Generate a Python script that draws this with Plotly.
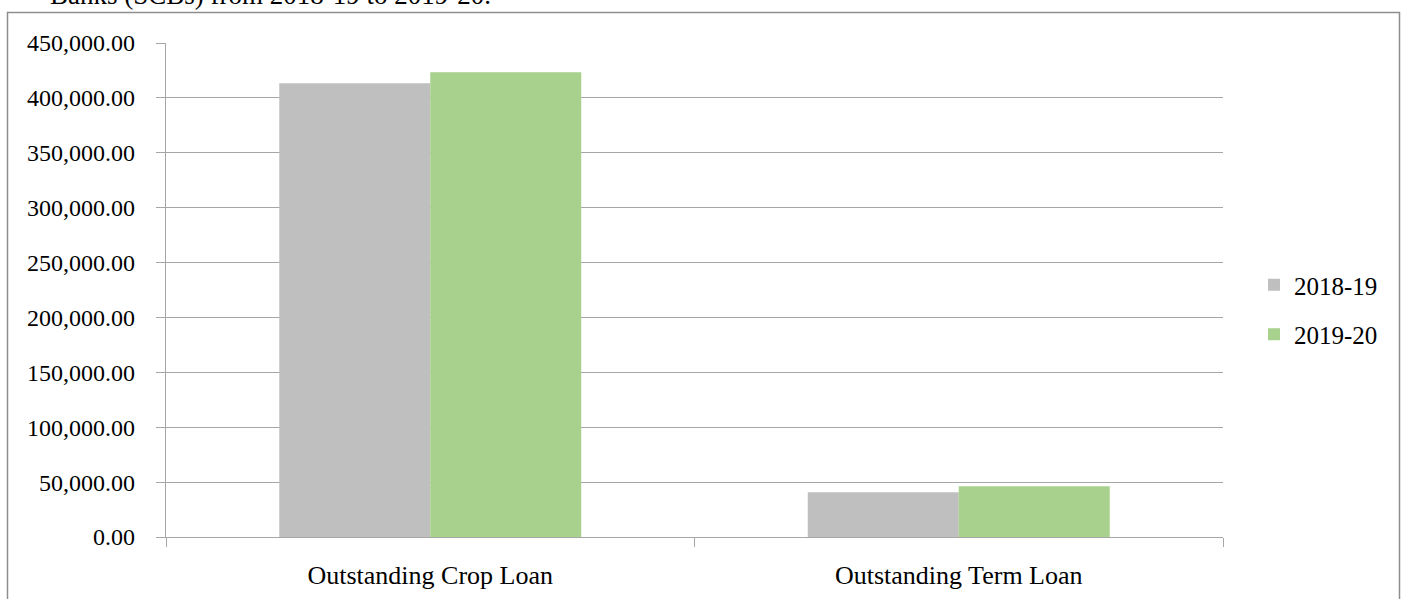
import plotly.graph_objects as go

categories = ["Outstanding Crop Loan", "Outstanding Term Loan"]
series_names = ["2018-19", "2019-20"]
values_2018_19 = [413300, 40700]
values_2019_20 = [423300, 46200]
series_colors = ["#BFBFBF", "#A9D18E"]
y_ticks = [0, 50000, 100000, 150000, 200000, 250000, 300000, 350000, 400000, 450000]

W, H = 1403, 599
L, R, T, B = 166, 180, 43, 62
FONT = "Liberation Serif"

fig = go.Figure()
for name, vals, col in zip(series_names, [values_2018_19, values_2019_20], series_colors):
    fig.add_trace(go.Bar(x=categories, y=vals, name=name, showlegend=False,
                         marker=dict(color=col, line=dict(width=0))))
# legend entries with square swatches
for i, (name, col) in enumerate(zip(series_names, series_colors)):
    fig.add_trace(go.Scatter(x=[None], y=[None], mode="markers", name=name,
                             legendgroup=f"g{i}",
                             marker=dict(symbol="square", size=16, color=col)))

pw = W - L - R
ph = H - T - B
def px2x(p):
    return (p - L) / pw
def py2y(p):
    return (H - B - p) / ph

fig.update_layout(
    width=W, height=H,
    margin=dict(l=L, r=R, t=T, b=B, autoexpand=False),
    paper_bgcolor="white", plot_bgcolor="white",
    barmode="group", bargap=0.4286, bargroupgap=0,
    font=dict(family=FONT, size=24, color="black"),
    legend=dict(x=px2x(1254), y=py2y(262), xanchor="left", yanchor="top",
                font=dict(family=FONT, size=25), itemsizing="constant",
                traceorder="grouped", tracegroupgap=14, itemwidth=30,
                bgcolor="rgba(0,0,0,0)"),
    shapes=[dict(type="rect", xref="paper", yref="paper",
                 x0=px2x(7.5), x1=px2x(1399.5), y0=py2y(650), y1=py2y(12.5),
                 line=dict(color="#8E8E8E", width=1.5), fillcolor="rgba(0,0,0,0)", layer="below")],
    annotations=[dict(text="Banks (SCBs) from 2018-19 to 2019-20.", xref="paper", yref="paper",
                      x=px2x(48), y=py2y(12), xanchor="left", yanchor="bottom", showarrow=False,
                      font=dict(family=FONT, size=27, color="black"))],
)
fig.update_yaxes(range=[0, 450000], tickvals=y_ticks, tickformat=",.2f", automargin=False,
                 showgrid=True, gridcolor="#A6A6A6", gridwidth=1.3,
                 showline=True, linecolor="#A6A6A6", linewidth=1.3,
                 ticks="outside", ticklen=9, tickcolor="#A6A6A6", tickwidth=1.3,
                 ticklabelstandoff=16, zeroline=False,
                 tickfont=dict(family=FONT, size=24))
fig.update_xaxes(type="category", showline=True, linecolor="#A6A6A6", linewidth=1.3, automargin=False,
                 ticks="outside", tickson="boundaries", ticklen=9, tickcolor="#A6A6A6", tickwidth=1.3,
                 ticklabelstandoff=15, showgrid=False,
                 tickfont=dict(family=FONT, size=26))

fig.write_html("out.html")
